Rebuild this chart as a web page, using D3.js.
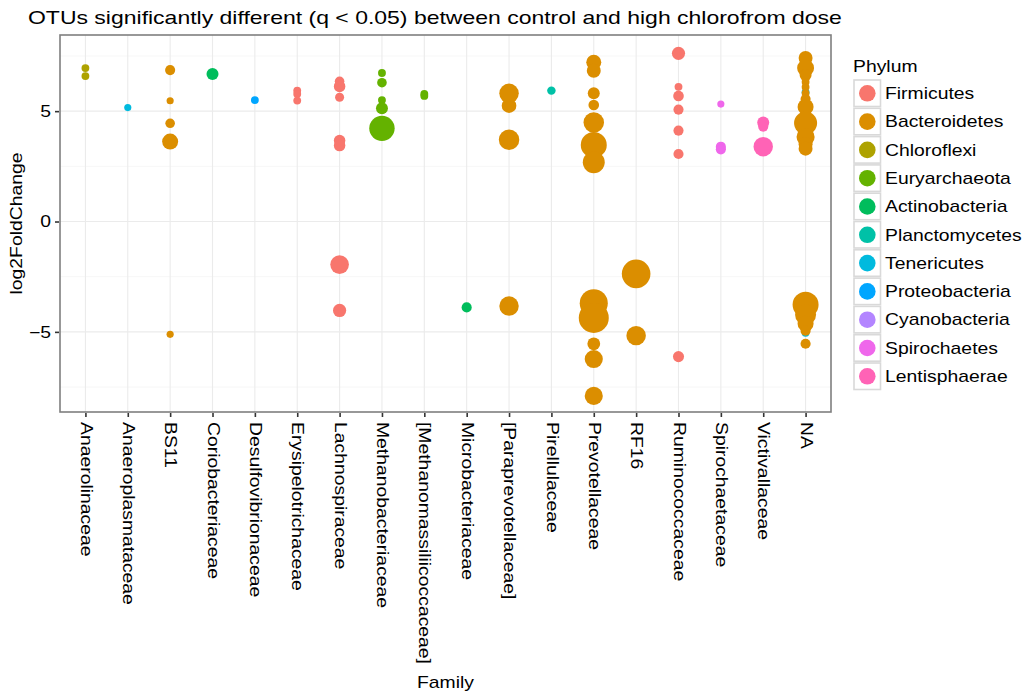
<!DOCTYPE html>
<html>
<head>
<meta charset="utf-8">
<script src="https://cdn.jsdelivr.net/npm/d3@7"></script>
<style>
    body { margin: 0; background: #fff; font-family: "Liberation Sans", Arial, sans-serif; }
    .grid-major { stroke: #ebebeb; stroke-width: 1.1; }
    .grid-minor { stroke: #f4f4f4; stroke-width: 0.8; }
</style>
</head>
<body>
<div id="container"><svg></svg></div>
<script>
let width = 1026;
let height = 695;

// the reference text is set wider than Liberation Sans, so stretch it a little
let sx = 1.21;

let families = ["Anaerolinaceae", "Anaeroplasmataceae", "BS11", "Coriobacteriaceae", "Desulfovibrionaceae",
    "Erysipelotrichaceae", "Lachnospiraceae", "Methanobacteriaceae", "[Methanomassiliicoccaceae]",
    "Microbacteriaceae", "[Paraprevotellaceae]", "Pirellulaceae", "Prevotellaceae", "RF16",
    "Ruminococcaceae", "Spirochaetaceae", "Victivallaceae", "NA"];

let phyla = ["Firmicutes", "Bacteroidetes", "Chloroflexi", "Euryarchaeota", "Actinobacteria",
    "Planctomycetes", "Tenericutes", "Proteobacteria", "Cyanobacteria", "Spirochaetes", "Lentisphaerae"];

let phylumColors = ["#F8766D", "#DB8E00", "#AEA200", "#64B200", "#00BD5C", "#00C1A7",
    "#00BADE", "#00A6FF", "#B385FF", "#EF67EB", "#FF63B6"];

let yTicks = [-5, 0, 5];

// [family, phylum, log2FoldChange, baseMean]
let otus = [
    ["Anaerolinaceae", "Chloroflexi", 6.95, 6],
    ["Anaerolinaceae", "Chloroflexi", 6.59, 6],
    ["Anaeroplasmataceae", "Tenericutes", 5.16, 5],
    ["BS11", "Bacteroidetes", 6.86, 10],
    ["BS11", "Bacteroidetes", 5.47, 5],
    ["BS11", "Bacteroidetes", 4.45, 9],
    ["BS11", "Bacteroidetes", 3.62, 25],
    ["BS11", "Bacteroidetes", -5.11, 5],
    ["Coriobacteriaceae", "Actinobacteria", 6.68, 14],
    ["Desulfovibrionaceae", "Proteobacteria", 5.5, 6],
    ["Erysipelotrichaceae", "Firmicutes", 5.93, 6],
    ["Erysipelotrichaceae", "Firmicutes", 5.78, 6],
    ["Erysipelotrichaceae", "Firmicutes", 5.48, 6],
    ["Lachnospiraceae", "Firmicutes", 6.35, 9],
    ["Lachnospiraceae", "Firmicutes", 6.12, 13],
    ["Lachnospiraceae", "Firmicutes", 5.63, 8],
    ["Lachnospiraceae", "Firmicutes", 3.67, 13],
    ["Lachnospiraceae", "Firmicutes", 3.44, 13],
    ["Lachnospiraceae", "Firmicutes", -1.95, 34],
    ["Lachnospiraceae", "Firmicutes", -4.03, 17],
    ["Methanobacteriaceae", "Euryarchaeota", 6.73, 6],
    ["Methanobacteriaceae", "Euryarchaeota", 6.29, 9],
    ["Methanobacteriaceae", "Euryarchaeota", 5.5, 6],
    ["Methanobacteriaceae", "Euryarchaeota", 5.13, 14],
    ["Methanobacteriaceae", "Euryarchaeota", 4.22, 63],
    ["[Methanomassiliicoccaceae]", "Euryarchaeota", 5.78, 6],
    ["[Methanomassiliicoccaceae]", "Euryarchaeota", 5.69, 6],
    ["Microbacteriaceae", "Actinobacteria", -3.89, 10],
    ["[Paraprevotellaceae]", "Bacteroidetes", 5.81, 37],
    ["[Paraprevotellaceae]", "Bacteroidetes", 5.25, 21],
    ["[Paraprevotellaceae]", "Bacteroidetes", 3.7, 41],
    ["[Paraprevotellaceae]", "Bacteroidetes", -3.83, 37],
    ["Pirellulaceae", "Planctomycetes", 5.93, 7],
    ["Prevotellaceae", "Bacteroidetes", 7.21, 22],
    ["Prevotellaceae", "Bacteroidetes", 6.83, 19],
    ["Prevotellaceae", "Bacteroidetes", 5.81, 14],
    ["Prevotellaceae", "Bacteroidetes", 5.28, 11],
    ["Prevotellaceae", "Bacteroidetes", 4.49, 41],
    ["Prevotellaceae", "Bacteroidetes", 3.47, 66],
    ["Prevotellaceae", "Bacteroidetes", 2.68, 47],
    ["Prevotellaceae", "Bacteroidetes", -3.7, 77],
    ["Prevotellaceae", "Bacteroidetes", -4.37, 88],
    ["Prevotellaceae", "Bacteroidetes", -5.54, 16],
    ["Prevotellaceae", "Bacteroidetes", -6.23, 32],
    ["Prevotellaceae", "Bacteroidetes", -7.9, 32],
    ["RF16", "Bacteroidetes", -2.37, 80],
    ["RF16", "Bacteroidetes", -5.17, 37],
    ["Ruminococcaceae", "Firmicutes", 7.62, 17],
    ["Ruminococcaceae", "Firmicutes", 6.1, 6],
    ["Ruminococcaceae", "Firmicutes", 5.69, 11],
    ["Ruminococcaceae", "Firmicutes", 5.07, 10],
    ["Ruminococcaceae", "Firmicutes", 4.12, 10],
    ["Ruminococcaceae", "Firmicutes", 3.06, 10],
    ["Ruminococcaceae", "Firmicutes", -6.12, 12],
    ["Spirochaetaceae", "Spirochaetes", 5.32, 5],
    ["Spirochaetaceae", "Spirochaetes", 3.39, 10],
    ["Spirochaetaceae", "Spirochaetes", 3.27, 10],
    ["Victivallaceae", "Lentisphaerae", 4.49, 14],
    ["Victivallaceae", "Lentisphaerae", 4.3, 10],
    ["Victivallaceae", "Lentisphaerae", 3.39, 37],
    ["NA", "Tenericutes", 5.86, 6],
    ["NA", "Tenericutes", -5.04, 6],
    ["NA", "Bacteroidetes", 7.41, 19],
    ["NA", "Bacteroidetes", 6.95, 28],
    ["NA", "Bacteroidetes", 6.64, 14],
    ["NA", "Bacteroidetes", 6.32, 6],
    ["NA", "Bacteroidetes", 6.09, 6],
    ["NA", "Bacteroidetes", 5.82, 6],
    ["NA", "Bacteroidetes", 5.55, 10],
    ["NA", "Bacteroidetes", 5.19, 25],
    ["NA", "Bacteroidetes", 4.46, 52],
    ["NA", "Bacteroidetes", 3.83, 32],
    ["NA", "Bacteroidetes", 3.5, 19],
    ["NA", "Bacteroidetes", 3.3, 19],
    ["NA", "Bacteroidetes", -3.77, 66],
    ["NA", "Bacteroidetes", -4.22, 43],
    ["NA", "Bacteroidetes", -4.63, 25],
    ["NA", "Bacteroidetes", -4.95, 10],
    ["NA", "Bacteroidetes", -5.54, 10]
];

function draw_main() {
    let panel = {'left': 60, 'right': 831, 'top': 35, 'bottom': 412};
    let svg = d3.select('#container')
        .select('svg')
        .attr('width', width)
        .attr('height', height);

    let x = d3.scalePoint()
        .domain(families)
        .range([panel.left, panel.right])
        .padding(0.6);

    let y = d3.scaleLinear()
        .domain([-8.63, 8.45])
        .range([panel.bottom, panel.top]);

    let r = d3.scaleSqrt()
        .domain([0, 100])
        .range([0, 16]);

    let color = d3.scaleOrdinal()
        .domain(phyla)
        .range(phylumColors);

    // title
    svg.append('text')
        .attr('transform', `translate(28, 24) scale(${sx}, 1)`)
        .attr('font-size', '19px')
        .attr('fill', '#000')
        .text('OTUs significantly different (q < 0.05) between control and high chlorofrom dose');

    // grid
    let grid = svg.append('g');
    grid.selectAll('.grid-minor')
        .data([-7.5, -2.5, 2.5, 7.5])
        .enter()
        .append('line')
        .attr('class', 'grid-minor')
        .attr('x1', panel.left).attr('x2', panel.right)
        .attr('y1', d => y(d)).attr('y2', d => y(d));
    grid.selectAll('.grid-h')
        .data(yTicks)
        .enter()
        .append('line')
        .attr('class', 'grid-major')
        .attr('x1', panel.left).attr('x2', panel.right)
        .attr('y1', d => y(d)).attr('y2', d => y(d));
    grid.selectAll('.grid-v')
        .data(families)
        .enter()
        .append('line')
        .attr('class', 'grid-major')
        .attr('x1', d => x(d)).attr('x2', d => x(d))
        .attr('y1', panel.top).attr('y2', panel.bottom);

    // points
    svg.append('g')
        .selectAll('circle')
        .data(otus)
        .enter()
        .append('circle')
        .attr('cx', d => x(d[0]))
        .attr('cy', d => y(d[2]))
        .attr('r', d => r(d[3]))
        .attr('fill', d => color(d[1]));

    // panel border
    svg.append('rect')
        .attr('x', panel.left)
        .attr('y', panel.top)
        .attr('width', panel.right - panel.left)
        .attr('height', panel.bottom - panel.top)
        .attr('fill', 'none')
        .attr('stroke', '#7f7f7f')
        .attr('stroke-width', 1.6);

    // x axis
    let axis_x = d3.axisBottom(x).tickSize(4).tickPadding(6);
    let gx = svg.append('g')
        .attr('transform', `translate(0, ${panel.bottom + 1})`)
        .call(axis_x);
    gx.select('.domain').remove();
    gx.selectAll('.tick line').attr('stroke', '#333').attr('stroke-width', 1.6);
    gx.selectAll('.tick text')
        .attr('font-family', '"Liberation Sans", Arial, sans-serif')
        .attr('font-size', '16px')
        .attr('fill', '#000')
        .attr('text-anchor', 'start')
        .attr('dy', 0)
        .attr('transform', `rotate(90) scale(${sx}, 1)`)
        .attr('x', 9 / sx)
        .attr('y', 0)
        .attr('dominant-baseline', 'central');

    svg.append('text')
        .attr('transform', `translate(${(panel.left + panel.right) / 2}, 688) scale(${sx}, 1)`)
        .attr('text-anchor', 'middle')
        .attr('font-size', '16px')
        .text('Family');

    // y axis
    let axis_y = d3.axisLeft(y).tickValues(yTicks).tickSize(4).tickPadding(4);
    let gy = svg.append('g')
        .attr('transform', `translate(${panel.left - 1}, 0)`)
        .call(axis_y);
    gy.select('.domain').remove();
    gy.selectAll('.tick line').attr('stroke', '#333').attr('stroke-width', 1.6);
    gy.selectAll('.tick text')
        .attr('font-family', '"Liberation Sans", Arial, sans-serif')
        .attr('font-size', '16px')
        .attr('fill', '#000')
        .attr('transform', `scale(${sx}, 1)`)
        .attr('x', -8 / sx);

    svg.append('text')
        .attr('transform', `translate(22, ${(panel.top + panel.bottom) / 2}) rotate(-90) scale(${sx}, 1)`)
        .attr('text-anchor', 'middle')
        .attr('font-size', '16px')
        .text('log2FoldChange');

    // legend
    let legend = svg.append('g')
        .attr('transform', 'translate(853, 79)');
    legend.append('text')
        .attr('transform', `translate(0, -7) scale(${sx}, 1)`)
        .attr('font-size', '16px')
        .text('Phylum');
    let keys = legend.selectAll('.key')
        .data(phyla)
        .enter()
        .append('g')
        .attr('transform', (d, i) => `translate(0, ${i * 28.3})`);
    keys.append('rect')
        .attr('x', 1).attr('y', 1)
        .attr('width', 26.5).attr('height', 26.5)
        .attr('fill', '#fff')
        .attr('stroke', '#d9d9d9')
        .attr('stroke-width', 1.6);
    keys.append('circle')
        .attr('cx', 14.3).attr('cy', 14.3)
        .attr('r', 8.3)
        .attr('fill', d => color(d));
    keys.append('text')
        .attr('transform', `translate(32, 14.3) scale(${sx}, 1)`)
        .attr('dy', '0.36em')
        .attr('font-size', '16px')
        .text(d => d);
}

draw_main();
</script>
</body>
</html>
